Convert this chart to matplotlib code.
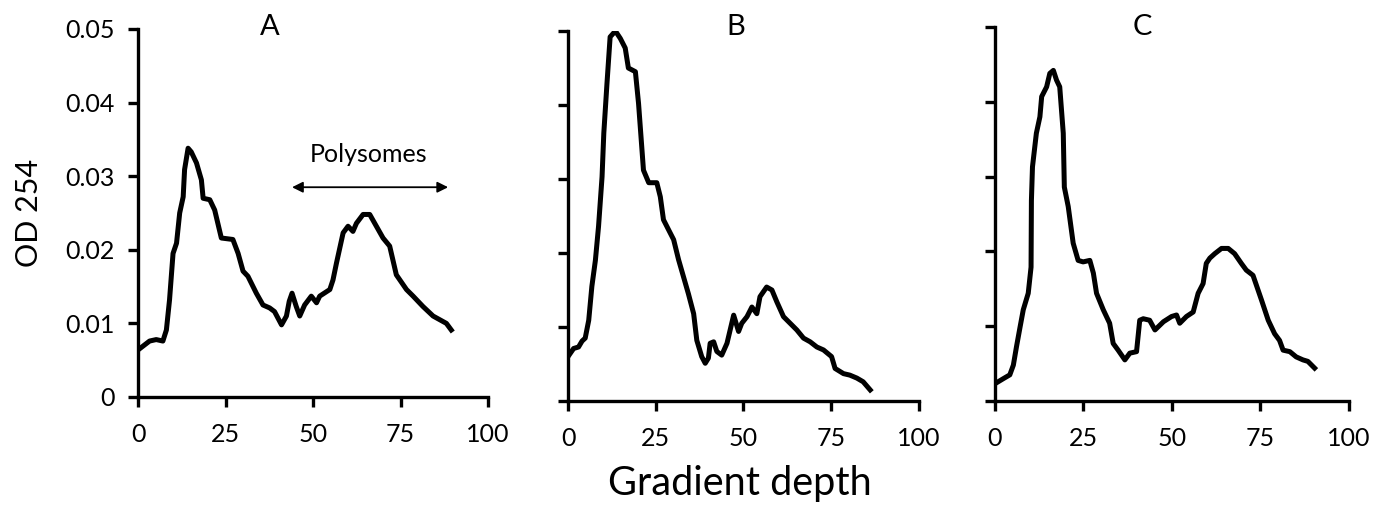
import matplotlib.pyplot as plt

plt.rcParams['font.family'] = ['Lato', 'DejaVu Sans']

# panel A
a_x = [0.3, 3.3, 5.2, 7.1, 8.1, 9.0, 10, 11, 11.9, 12.9, 13.3, 14.3, 15.2, 16.7, 18.1, 18.6,
       20.5, 21.9, 23.8, 27.1, 28.6, 30, 31.4, 33.8, 35.7, 37.6, 39.0, 41, 42.4, 43.2, 44,
       45.2, 46.2, 47.6, 49.5, 51, 51.9, 54.8, 55.7, 56.7, 58.6, 60, 61.4, 62.4, 64.3, 66.2,
       68.1, 70, 71.9, 73.8, 76.7, 78.6, 81.4, 84.3, 86.2, 88.1, 89.5]
a_y = [0.0065, 0.0076, 0.0078, 0.0076, 0.0091, 0.0132, 0.0195, 0.0209, 0.025, 0.0272, 0.0309,
       0.0338, 0.0333, 0.0318, 0.0295, 0.027, 0.0268, 0.0254, 0.0216, 0.0214, 0.0195, 0.0171,
       0.0164, 0.0141, 0.0125, 0.0121, 0.0116, 0.0098, 0.011, 0.013, 0.0141, 0.0123, 0.011,
       0.0125, 0.0137, 0.0128, 0.0137, 0.0146, 0.0159, 0.0182, 0.0223, 0.0232, 0.0225, 0.0236,
       0.0248, 0.0248, 0.0232, 0.0216, 0.0205, 0.0166, 0.0146, 0.0137, 0.0123, 0.011, 0.0105,
       0.01, 0.0091]

# panel B
b_x = [0, 1.6, 3.0, 4.0, 4.9, 5.9, 6.8, 7.8, 8.7, 9.7, 10.2, 11.1, 12.0, 13.5, 14.9, 16.3,
       17.2, 19.2, 20.1, 21.5, 23, 25.3, 26.3, 27.2, 28.7, 30.1, 31.5, 32.9, 34.3, 35.8, 36.7,
       38.1, 39.1, 40.0, 40.5, 41.5, 42.4, 43.8, 45.3, 46.2, 47.2, 48.6, 49.5, 51, 52.4, 53.8,
       54.7, 56.6, 58.1, 59.5, 61.4, 63.3, 65.2, 67.1, 69, 70.9, 72.8, 75.1, 76.1, 78.5, 80.3,
       82.3, 84.1, 86.1]
b_y = [0.006, 0.0071, 0.0073, 0.0081, 0.0085, 0.0109, 0.0155, 0.019, 0.0236, 0.0303, 0.0362,
       0.0429, 0.0492, 0.05, 0.049, 0.0477, 0.045, 0.0445, 0.0402, 0.0312, 0.0295, 0.0295,
       0.0276, 0.0245, 0.0231, 0.0218, 0.0191, 0.0168, 0.0145, 0.0118, 0.0082, 0.006, 0.0051,
       0.0058, 0.0078, 0.008, 0.0067, 0.0062, 0.0078, 0.0096, 0.0116, 0.0094, 0.0105, 0.0114,
       0.0127, 0.0118, 0.0141, 0.0154, 0.015, 0.0134, 0.0114, 0.0105, 0.0096, 0.0085, 0.008,
       0.0073, 0.0069, 0.006, 0.0044, 0.0037, 0.0035, 0.0031, 0.0026, 0.0015]

# panel C
c_x = [0.3, 2.4, 4.2, 5.2, 6.1, 7.1, 8.0, 9.4, 10.2, 10.3, 10.6, 11.7, 12.7, 13.2, 14.6, 15.5,
       16.5, 17.4, 18.3, 19.3, 19.6, 20.7, 22.1, 23.5, 24.9, 26.8, 27.8, 28.7, 30.6, 32.4,
       33.4, 34.8, 36.7, 38.1, 40.0, 40.9, 41.9, 43.7, 45.2, 47.6, 49.9, 51.3, 52.2, 54.1, 56,
       57.4, 58.8, 59.7, 60.7, 62.1, 64, 65.9, 67.7, 69.6, 71, 72.9, 75.3, 77.2, 79, 80.4,
       81.4, 83.3, 85.1, 87, 88.4, 90.3]
c_y = [0.0024, 0.003, 0.0035, 0.0048, 0.0073, 0.0099, 0.0122, 0.0144, 0.0179, 0.0268, 0.0313,
       0.0358, 0.038, 0.0407, 0.042, 0.0438, 0.0442, 0.0429, 0.042, 0.0358, 0.0286, 0.026,
       0.0211, 0.0188, 0.0186, 0.0188, 0.0171, 0.0144, 0.0122, 0.0104, 0.0077, 0.0068, 0.0055,
       0.0064, 0.0066, 0.0108, 0.011, 0.0108, 0.0095, 0.0106, 0.0113, 0.0115, 0.0104, 0.0113,
       0.0119, 0.0144, 0.0157, 0.0184, 0.0191, 0.0197, 0.0204, 0.0204, 0.0197, 0.0184, 0.0175,
       0.0168, 0.0135, 0.0108, 0.009, 0.0081, 0.0068, 0.0066, 0.0059, 0.0055, 0.0053, 0.0044]

titles = ['A', 'B', 'C']
x_ticks = [0, 25, 50, 75, 100]
y_ticks = [0, 0.01, 0.02, 0.03, 0.04, 0.05]
y_labels = ['0', '0.01', '0.02', '0.03', '0.04', '0.05']

fig = plt.figure(figsize=(13.79, 5.05), dpi=100)
boxes = [[0.1001, 0.2139, 0.2538, 0.7287],
         [0.4119, 0.2059, 0.2545, 0.7327],
         [0.7215, 0.2059, 0.2567, 0.7406]]
title_x = [270, 736, 1142]  # pixel centres of the panel letters
series = [(a_x, a_y), (b_x, b_y), (c_x, c_y)]

for i, (box, (xs, ys)) in enumerate(zip(boxes, series)):
    ax = fig.add_axes(box)
    ax.plot(xs, ys, color='black', lw=3.6, solid_joinstyle='round')
    ax.set_xlim(0, 100)
    ax.set_ylim(0, 0.05)
    ax.set_xticks(x_ticks)
    ax.set_xticklabels([str(t) for t in x_ticks])
    ax.set_yticks(y_ticks)
    if i == 0:
        ax.set_yticklabels(y_labels)
    else:
        ax.set_yticklabels([])
    for s in ['top', 'right']:
        ax.spines[s].set_visible(False)
    for s in ['left', 'bottom']:
        ax.spines[s].set_linewidth(2.4)
    ax.tick_params(direction='out', length=7.5, width=2.4, labelsize=18)
    ax.tick_params(axis='x', pad=11)
    ax.tick_params(axis='y', pad=9)
    ax.patch.set_alpha(0)
    fig.text(title_x[i] / 1379, 1 - 27 / 505, titles[i], ha='center', va='center', fontsize=21)
    if i == 0:
        ax.set_ylabel('OD 254', fontsize=22, labelpad=16)
        ax.annotate('', xy=(88.6, 0.0285), xytext=(44, 0.0285),
                    arrowprops=dict(arrowstyle='<|-|>', color='black', lw=1.3,
                                    mutation_scale=16, shrinkA=0, shrinkB=0))
        ax.text(66.0, 0.0329, 'Polysomes', ha='center', va='center', fontsize=18)

fig.text(740 / 1379, 1 - 484 / 505, 'Gradient depth', ha='center', va='center', fontsize=28.5)

fig.savefig('out.png', dpi=100)
